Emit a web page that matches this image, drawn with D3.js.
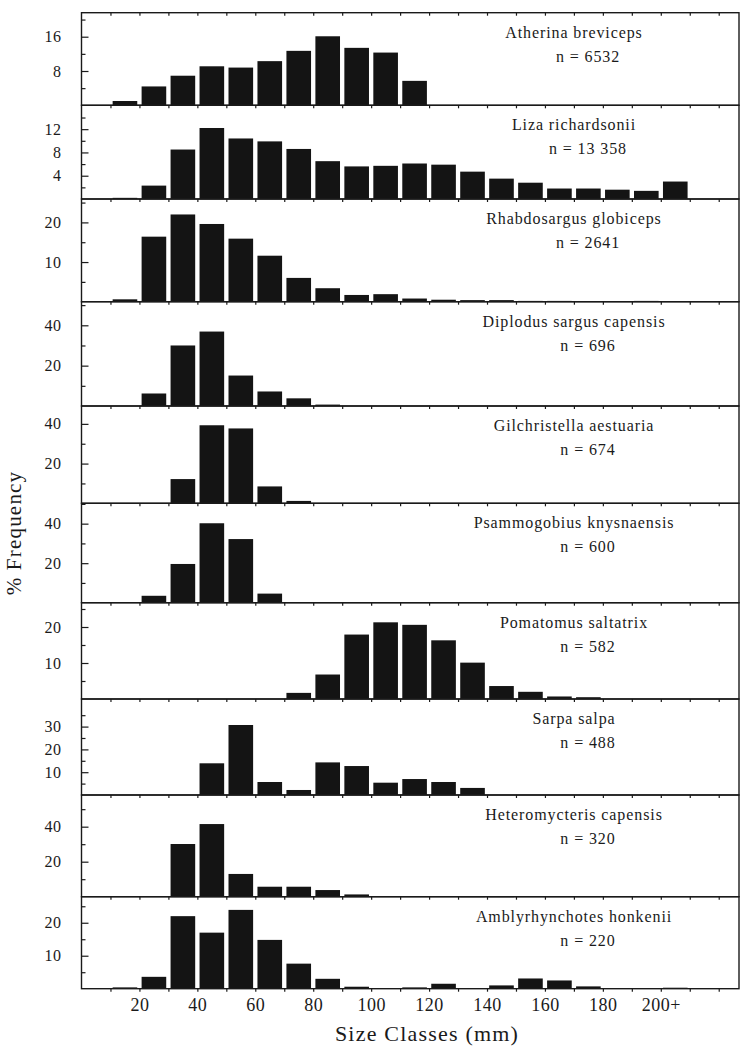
<!DOCTYPE html>
<html>
<head>
<meta charset="utf-8">
<script src="https://cdn.jsdelivr.net/npm/d3@7"></script>
<style>
  body { margin: 0; background: #fff; }
  text { font-family: "Liberation Serif", "DejaVu Serif", serif; fill: #1a1a1a; }
</style>
</head>
<body>
<svg id="chart" width="740" height="1047"></svg>
<script>
// size classes (mm), lower bound of each 10 mm class; 200 = "200+"
const sizeClasses = [10, 20, 30, 40, 50, 60, 70, 80, 90, 100, 110, 120, 130, 140, 150, 160, 170, 180, 190, 200];

const species = [
  'Atherina breviceps', 'Liza richardsonii', 'Rhabdosargus globiceps', 'Diplodus sargus capensis',
  'Gilchristella aestuaria', 'Psammogobius knysnaensis', 'Pomatomus saltatrix', 'Sarpa salpa',
  'Heteromycteris capensis', 'Amblyrhynchotes honkenii'
];
const sampleSizes = ['6532', '13 358', '2641', '696', '674', '600', '582', '488', '320', '220'];

// % frequency per size class
const atherina     = [1.0, 4.4, 6.9, 9.1, 8.8, 10.3, 12.7, 16.1, 13.4, 12.3, 5.7, 0, 0, 0, 0, 0, 0, 0, 0, 0];
const liza         = [0.2, 2.3, 8.5, 12.2, 10.4, 9.9, 8.6, 6.5, 5.6, 5.7, 6.1, 5.9, 4.7, 3.5, 2.8, 1.8, 1.8, 1.6, 1.4, 3.0];
const rhabdosargus = [0.6, 16.4, 22.0, 19.6, 15.9, 11.6, 6.0, 3.4, 1.7, 1.9, 0.8, 0.5, 0.4, 0.4, 0.2, 0.2, 0, 0, 0.2, 0];
const diplodus     = [0, 6.2, 30.0, 36.9, 15.1, 7.2, 3.8, 0.7, 0, 0, 0, 0, 0, 0, 0, 0, 0, 0, 0, 0];
const gilchristella= [0, 0, 12.2, 39.3, 37.7, 8.5, 1.2, 0, 0, 0, 0, 0, 0, 0, 0, 0, 0, 0, 0, 0];
const psammogobius = [0, 3.5, 19.6, 40.2, 32.2, 4.6, 0, 0, 0, 0, 0, 0, 0, 0, 0, 0, 0, 0, 0, 0];
const pomatomus    = [0, 0, 0, 0, 0, 0, 1.7, 6.8, 17.9, 21.3, 20.6, 16.3, 10.1, 3.6, 2.0, 0.7, 0.5, 0, 0, 0];
const sarpa        = [0, 0, 0, 13.9, 30.7, 5.7, 2.2, 14.3, 12.7, 5.4, 7.0, 5.7, 3.1, 0, 0, 0, 0, 0, 0, 0];
const heteromycteris = [0, 0, 30.1, 41.5, 13.0, 5.7, 5.7, 3.8, 1.3, 0, 0, 0, 0.3, 0.3, 0, 0, 0, 0, 0, 0];
const amblyrhynchotes = [0.4, 3.6, 22.0, 17.0, 23.9, 14.8, 7.6, 3.0, 0.6, 0, 0.4, 1.5, 0, 1.0, 3.1, 2.5, 0.7, 0, 0, 0.3];

const series = [atherina, liza, rhabdosargus, diplodus, gilchristella, psammogobius, pomatomus, sarpa, heteromycteris, amblyrhynchotes];

// y axis: top of each panel's domain and labelled ticks
const yMax = [21.6, 16.1, 25.9, 51.7, 49.0, 50.3, 26.75, 42.1, 58.1, 27.9];
const yTicks = [[8, 16], [4, 8, 12], [10, 20], [20, 40], [20, 40], [20, 40], [10, 20], [10, 20, 30], [20, 40], [10, 20]];
const xTickLabels = [20, 40, 60, 80, 100, 120, 140, 160, 180, 200];

// layout
const svg = d3.select('#chart');
const left = 81.5, right = 739;
const edges = [12.7, 105.3, 199, 301.7, 406, 503.3, 602.7, 699, 795, 896.7, 988.7];

const x = d3.scaleLinear().domain([0, 227]).range([left, right]);
const barInset = 0.75;

series.forEach((vals, i) => {
  const top = edges[i], bottom = edges[i + 1];
  const y = d3.scaleLinear().domain([0, yMax[i]]).range([bottom, top]);
  const g = svg.append('g');

  g.selectAll('rect.bar')
    .data(vals.map((v, j) => ({ c: sizeClasses[j], v })).filter(d => d.v > 0))
    .join('rect')
    .attr('class', 'bar')
    .attr('x', d => x(d.c + barInset))
    .attr('width', d => x(d.c + 10 - barInset) - x(d.c + barInset))
    .attr('y', d => y(d.v))
    .attr('height', d => Math.max(1, bottom - y(d.v)))
    .attr('fill', '#141414');

  // frame
  g.append('rect')
    .attr('x', left).attr('y', top)
    .attr('width', right - left).attr('height', bottom - top)
    .attr('fill', 'none').attr('stroke', '#1a1a1a').attr('stroke-width', 1.4);

  // y axis, inward ticks
  const major = yTicks[i];
  const step = major[1] - major[0];
  const minor = [];
  for (let t = step / 2; t < yMax[i]; t += step) minor.push(t);

  g.append('g')
    .attr('transform', `translate(${left},0)`)
    .call(d3.axisLeft(y).tickValues(minor).tickSize(-4).tickFormat(''))
    .call(a => a.select('.domain').remove())
    .call(a => a.selectAll('line').attr('stroke', '#1a1a1a').attr('stroke-width', 1.2));

  g.append('g')
    .attr('transform', `translate(${left},0)`)
    .call(d3.axisLeft(y).tickValues(major).tickSize(-7).tickPadding(20).tickFormat(d3.format('d')))
    .call(a => a.select('.domain').remove())
    .call(a => a.selectAll('line').attr('stroke', '#1a1a1a').attr('stroke-width', 1.2))
    .call(a => a.selectAll('text')
      .attr('font-family', '"Liberation Serif", serif')
      .attr('font-size', 16).attr('letter-spacing', 0.5).attr('fill', '#1a1a1a'));

  // size-class ticks along the panel's top edge
  g.append('g')
    .attr('transform', `translate(0,${top})`)
    .call(d3.axisBottom(x).tickValues(sizeClasses.concat([210, 220])).tickSize(3).tickFormat(''))
    .call(a => a.select('.domain').remove())
    .call(a => a.selectAll('line').attr('stroke', '#1a1a1a').attr('stroke-width', 1.2));

  g.append('text')
    .attr('x', 574).attr('y', top + 25)
    .attr('text-anchor', 'middle')
    .attr('font-size', 16)
    .attr('letter-spacing', 0.9)
    .text(species[i]);

  g.append('text')
    .attr('x', 588).attr('y', top + 49)
    .attr('text-anchor', 'middle')
    .attr('font-size', 16)
    .attr('letter-spacing', 0.9)
    .text('n = ' + sampleSizes[i]);
});

// bottom size-class axis
const base = edges[edges.length - 1];
svg.append('g')
  .attr('transform', `translate(0,${base})`)
  .call(d3.axisBottom(x).tickValues(sizeClasses.concat([210, 220])).tickSize(3).tickFormat(''))
  .call(a => a.select('.domain').remove())
  .call(a => a.selectAll('line').attr('stroke', '#1a1a1a').attr('stroke-width', 1.2));

svg.append('g')
  .attr('transform', `translate(0,${base})`)
  .call(d3.axisBottom(x).tickValues(xTickLabels).tickSize(0).tickPadding(10)
    .tickFormat(d => d === 200 ? '200+' : d))
  .call(a => a.select('.domain').remove())
  .call(a => a.selectAll('text')
    .attr('font-family', '"Liberation Serif", serif')
    .attr('font-size', 18).attr('letter-spacing', 0.5).attr('fill', '#1a1a1a'));

svg.append('text')
  .attr('x', 427).attr('y', 1041)
  .attr('text-anchor', 'middle')
  .attr('font-size', 22)
  .attr('letter-spacing', 1.2)
  .text('Size Classes (mm)');

svg.append('text')
  .attr('transform', 'translate(21,533) rotate(-90)')
  .attr('text-anchor', 'middle')
  .attr('font-size', 21)
  .attr('letter-spacing', 1.2)
  .text('% Frequency');
</script>
</body>
</html>
